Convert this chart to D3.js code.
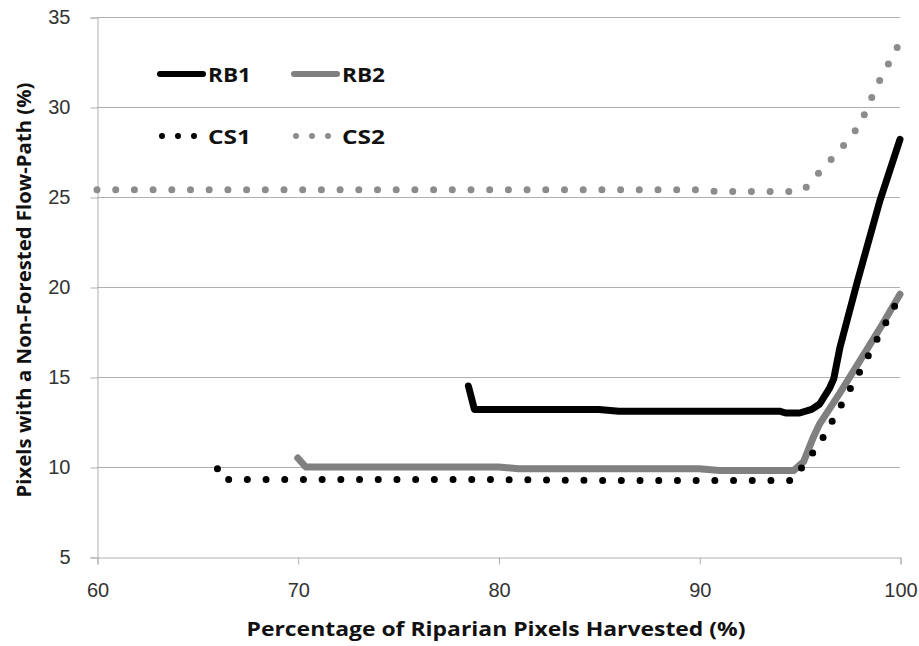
<!DOCTYPE html>
<html>
<head>
<meta charset="utf-8">
<script src="https://cdn.jsdelivr.net/npm/d3@7"></script>
<style>
  body { margin: 0; background: #fff; }
  svg { display: block; font-family: 'Open Sans', 'Liberation Sans', sans-serif; }
</style>
</head>
<body>
<svg id="chart" width="919" height="646"></svg>
<script>
// data: [percent harvested, percent non-forested flow-path]
const rb1 = [[78.5, 14.5], [78.8, 13.2], [80, 13.2], [85, 13.2], [86, 13.1], [90, 13.1], [94, 13.1],
  [94.3, 13.0], [95, 13.0], [95.6, 13.2], [96, 13.5], [96.5, 14.4], [96.7, 14.9], [97, 16.6],
  [97.4, 18.3], [97.9, 20.4], [99, 24.8], [100, 28.2]]
const rb2 = [[70, 10.5], [70.4, 10.0], [75, 10.0], [80, 10.0], [81, 9.9], [90, 9.9], [91, 9.8],
  [94.7, 9.8], [95.2, 10.3], [95.7, 11.7], [96, 12.4], [97, 14.1], [98, 15.9], [99, 17.7], [100, 19.6]]
const cs1 = [[66, 9.9], [66.2, 9.3], [80, 9.3], [85, 9.25], [94.7, 9.25], [95, 9.8], [96, 11.3],
  [97, 13.3], [98, 15.3], [99, 17.4], [100, 19.5]]
const cs2 = [[60, 25.4], [90, 25.4], [91, 25.3], [95, 25.3], [95.3, 25.5], [96, 26.4], [97, 27.6],
  [98, 29.0], [98.5, 30.3], [99, 31.5], [100, 33.6]]

const xTicks = [60, 70, 80, 90, 100]
const yTicks = [5, 10, 15, 20, 25, 30, 35]

const series = [
  { name: 'RB1', values: rb1, color: '#000000', dotted: false },
  { name: 'RB2', values: rb2, color: '#808080', dotted: false },
  { name: 'CS1', values: cs1, color: '#000000', dotted: true },
  { name: 'CS2', values: cs2, color: '#8c8c8c', dotted: true }
]

const svg = d3.select('#chart')
const x = d3.scaleLinear().domain([60, 100]).range([97, 900])
const y = d3.scaleLinear().domain([5, 35]).range([557, 17])
const gridColor = '#b0b0b0'

// horizontal gridlines
svg.append('g').selectAll('line').data(yTicks.slice(1)).enter().append('line')
  .attr('x1', x(60)).attr('x2', x(100))
  .attr('y1', d => y(d) + 0.5).attr('y2', d => y(d) + 0.5)
  .attr('stroke', gridColor).attr('stroke-width', 1)

// y axis
const yAxis = svg.append('g').attr('transform', 'translate(' + (x(60) + 0.5) + ',0.5)')
  .call(d3.axisLeft(y).tickValues(yTicks).tickSize(7).tickPadding(20).tickFormat(d3.format('d')))
yAxis.select('.domain').attr('stroke', gridColor)
yAxis.selectAll('.tick line').attr('stroke', gridColor)
yAxis.selectAll('.tick text').attr('font-size', 20).attr('fill', '#333').attr('font-family', null)

// x axis
const xAxis = svg.append('g').attr('transform', 'translate(0.5,' + (y(5) + 0.5) + ')')
  .call(d3.axisBottom(x).tickValues(xTicks).tickSize(7).tickPadding(18).tickFormat(d3.format('d')))
xAxis.select('.domain').attr('stroke', gridColor)
xAxis.selectAll('.tick line').attr('stroke', gridColor)
xAxis.selectAll('.tick text').attr('font-size', 20).attr('fill', '#333').attr('font-family', null)

// axis titles
svg.append('text').attr('x', 496).attr('y', 636).attr('text-anchor', 'middle')
  .attr('font-size', 19).attr('font-weight', 'bold').attr('fill', '#111')
  .attr('textLength', 499).attr('lengthAdjust', 'spacingAndGlyphs')
  .text('Percentage of Riparian Pixels Harvested (%)')
svg.append('text').attr('transform', 'translate(31,290) rotate(-90)').attr('text-anchor', 'middle')
  .attr('font-size', 19).attr('font-weight', 'bold').attr('fill', '#111')
  .attr('textLength', 415).attr('lengthAdjust', 'spacingAndGlyphs')
  .text('Pixels with a Non-Forested Flow-Path (%)')

// series
const line = d3.line().x(d => x(d[0])).y(d => y(d[1]))
svg.append('g').selectAll('path').data(series).enter().append('path')
  .attr('d', d => line(d.values))
  .attr('fill', 'none')
  .attr('stroke', d => d.color)
  .attr('stroke-width', d => d.dotted ? 7 : 7)
  .attr('stroke-linecap', 'round')
  .attr('stroke-linejoin', 'round')
  .attr('stroke-dasharray', d => d.dotted ? '0 18.7' : null)

// legend, two columns by two rows
const legend = svg.append('g').selectAll('g').data(series).enter().append('g')
  .attr('transform', (d, i) => 'translate(' + (160 + (i % 2) * 134) + ',' + (74 + Math.floor(i / 2) * 62) + ')')
legend.append('line')
  .attr('x1', d => d.dotted ? 2 : 0).attr('x2', 43).attr('y1', 0).attr('y2', 0)
  .attr('stroke', d => d.color)
  .attr('stroke-width', 6)
  .attr('stroke-linecap', 'round')
  .attr('stroke-dasharray', d => d.dotted ? '0 16' : null)
legend.append('text').attr('x', 48).attr('y', 8)
  .attr('font-size', 20).attr('font-weight', 'bold').attr('fill', '#111')
  .attr('textLength', 43).attr('lengthAdjust', 'spacingAndGlyphs')
  .text(d => d.name)
</script>
</body>
</html>
